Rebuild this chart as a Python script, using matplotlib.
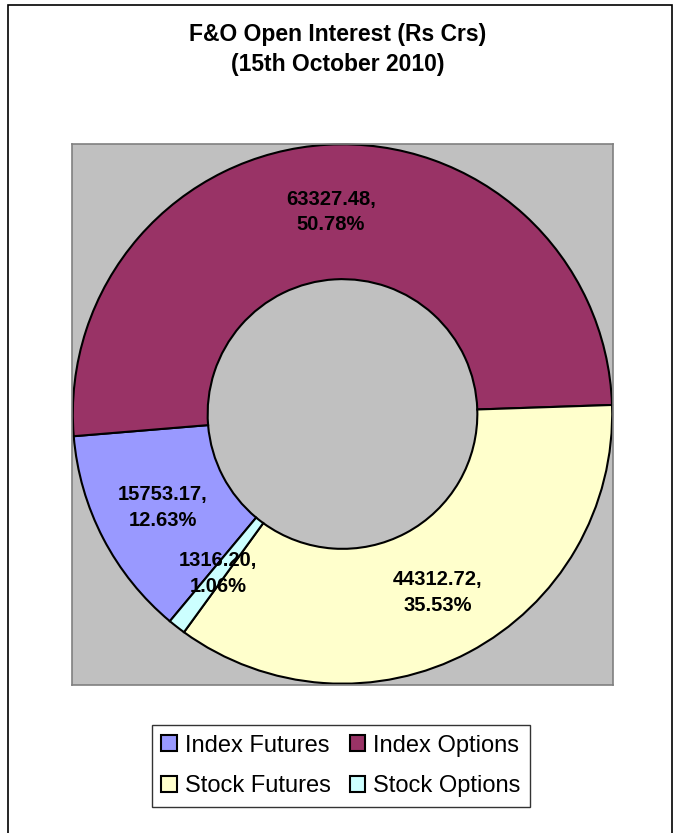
import matplotlib
matplotlib.use("Agg")
import matplotlib.pyplot as plt
from matplotlib.patches import Rectangle

plt.rcParams['font.family'] = ['Liberation Sans', 'DejaVu Sans']

# data
categories = ['Index Futures', 'Index Options', 'Stock Futures', 'Stock Options']
values = [15753.17, 63327.48, 44312.72, 1316.20]
percents = ['12.63%', '50.78%', '35.53%', '1.06%']
colors = ['#9999FF', '#993366', '#FFFFCC', '#CCFFFF']

fig = plt.figure(figsize=(6.75, 8.33), dpi=100)

# outer chart border
fig.patches.append(Rectangle((8 / 675, -0.01), 664 / 675, 1 - 5 / 833 + 0.01,
                             transform=fig.transFigure, fill=False,
                             edgecolor='black', linewidth=1.2))

fig.text(0.5, 1 - 34 / 833, 'F&O Open Interest (Rs Crs)', ha='center', va='center',
         fontsize=16.5, fontweight='bold')
fig.text(0.5, 1 - 65 / 833, '(15th October 2010)', ha='center', va='center',
         fontsize=16.5, fontweight='bold')

# plot area
ax = fig.add_axes([72 / 675, 1 - 685 / 833, 541 / 675, 542 / 833])
ax.set_facecolor('#C0C0C0')
for s in ax.spines.values():
    s.set_edgecolor('#808080')
    s.set_linewidth(1.2)

labels = ['{:.2f},\n{}'.format(v, p) for v, p in zip(values, percents)]
wedges, texts = ax.pie(values, colors=colors, startangle=230.2, counterclock=False,
                       radius=1.0, labels=labels, labeldistance=0.75,
                       wedgeprops=dict(width=0.5, edgecolor='black', linewidth=1.5),
                       textprops=dict(fontsize=14.5, fontweight='bold', ha='center',
                                      va='center', linespacing=1.45))
ax.set_xlim(-1.003, 1.003)
ax.set_ylim(-1.003, 1.003)
ax.set_aspect('equal')
ax.set_xticks([])
ax.set_yticks([])
ax.set_frame_on(True)

# legend fills row by row in the reference, so reorder for column filling
order = [0, 2, 1, 3]
leg = fig.legend([wedges[i] for i in order], [categories[i] for i in order],
                 ncol=2, loc='center',
                 bbox_to_anchor=(341 / 675, 1 - 766 / 833), fontsize=17,
                 frameon=True, fancybox=False, edgecolor='black',
                 handlelength=0.65, handleheight=0.65, handletextpad=0.35,
                 columnspacing=0.8, labelspacing=0.8, borderpad=0.4,
                 borderaxespad=0)
leg.get_frame().set_linewidth(1.0)

fig.savefig('out.png', dpi=100, facecolor='white')
